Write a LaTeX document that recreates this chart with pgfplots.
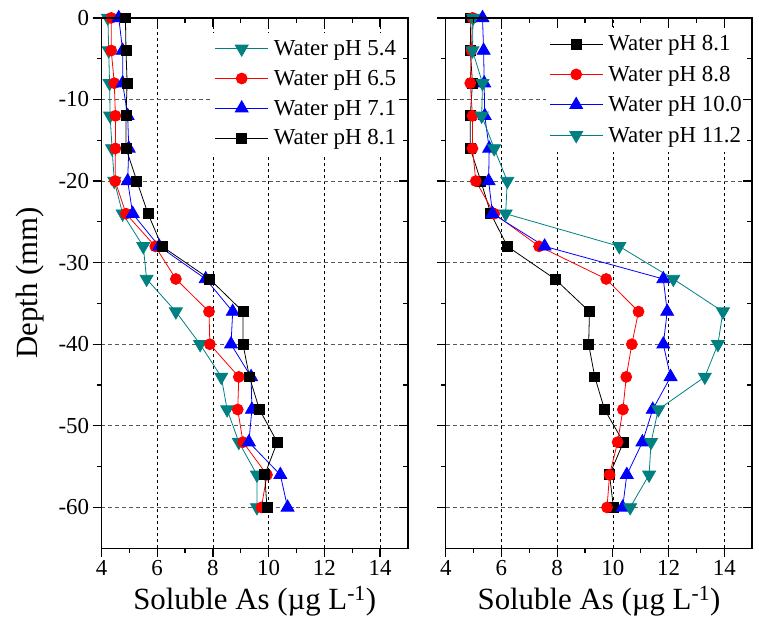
\documentclass[border=0pt]{standalone}
\usepackage{fontspec}
\setmainfont{Liberation Serif}
\usepackage{pgfplots}
\usepackage{pgfplotstable}
\pgfplotsset{compat=1.18}
\definecolor{tealc}{RGB}{0,128,128}

\newcommand{\tickfont}{\rmfamily\fontsize{23}{27}\selectfont}
\newcommand{\labfont}{\fontsize{31}{36}\selectfont}
\newcommand{\legfont}{\fontsize{23}{27}\selectfont}

% depth (mm), soluble As for each water pH
\pgfplotstableread{
depth  a     b     c     d
0      4.23  4.35  4.62  4.86
-4     4.26  4.35  4.76  4.88
-8     4.29  4.46  4.76  4.92
-12    4.31  4.50  4.94  4.88
-16    4.38  4.50  4.98  4.88
-20    4.46  4.49  4.94  5.27
-24    4.76  4.88  5.12  5.67
-28    5.50  5.93  6.07  6.17
-32    5.62  6.67  7.74  7.88
-36    6.67  7.86  8.71  9.08
-40    7.54  7.89  8.65  9.08
-44    8.30  8.93  9.37  9.31
-48    8.51  8.89  9.40  9.67
-52    8.93  9.08  9.29  10.31
-56    9.58  9.94  10.42 9.86
-60    9.58  9.74  10.68 9.94
}\leftdata

\pgfplotstableread{
depth  a     b     c     d
0      4.90  4.96  5.32  4.98
-4     4.88  4.92  5.36  4.96
-8     4.96  4.88  5.38  5.32
-12    4.88  4.96  5.40  5.29
-16    4.88  4.96  5.56  5.74
-20    5.26  5.08  5.54  6.21
-24    5.62  5.74  5.68  6.15
-28    6.21  7.35  7.55  10.23
-32    7.92  9.76  11.81 12.17
-36    9.16  10.92 11.95 13.95
-40    9.13  10.68 11.81 13.77
-44    9.35  10.48 12.07 13.30
-48    9.70  10.36 11.43 11.63
-52    10.38 10.17 11.06 11.37
-56    9.88  9.88  10.50 11.30
-60    10.02 9.79  10.35 10.62
}\rightdata

\pgfplotsset{
  panel/.style={
    scale only axis, width=308pt, height=533pt,
    xmin=4, xmax=15, ymin=-65, ymax=0,
    xtick={4,6,...,14}, minor x tick num=1,
    ytick={-60,-50,...,0}, minor y tick num=1,
    axis line style={line width=1.4pt},
    major tick length=9pt, minor tick length=5pt,
    tick style={black, line width=1.2pt},
    ticklabel style={font=\tickfont},
  },
  data/.style={
    panel, xtick pos=left, ytick pos=left, tick align=outside,
    xticklabels={4,6,8,10,12,14},
    yticklabels={-60,-50,-40,-30,-20,-10,0},
    grid=major,
    major x grid style={black, line width=0.6pt, dash pattern=on 3pt off 3pt},
    major y grid style={black!65, line width=0.9pt, dash pattern=on 4pt off 3pt},
    xlabel={Soluble As (µg L\textsuperscript{-1})},
    xlabel style={yshift=-3pt},
    label style={font=\labfont},
    every axis plot/.append style={line width=0.8pt},
    legend image code/.code={\draw[mark repeat=2,mark phase=2,#1] plot coordinates {(0pt,0pt) (26.5pt,0pt) (53pt,0pt)};},
    legend cell align=left,
  },
  frame/.style={
    panel, xtick pos=right, ytick pos=right, tick align=inside,
    xticklabels={}, yticklabels={},
  },
  dn/.style={tealc, mark=triangle*, mark size=7.5pt, mark options={rotate=180}},
  ci/.style={red, mark=*, mark size=5.5pt},
  up/.style={blue, mark=triangle*, mark size=7.5pt},
  sq/.style={black, mark=square*, mark size=5pt},
}

\begin{document}
\begin{tikzpicture}
\path (-102pt,-79pt) rectangle (657pt,551pt);
\begin{axis}[data,
    ylabel={Depth (mm)},
    ylabel style={at={(axis description cs:-0.2338,0.5)}, anchor=center},
    legend style={at={(axis description cs:0.3534,0.9728)}, anchor=north west,
      draw=none, fill=white, font=\legfont, inner xsep=5pt, inner ysep=6pt,
      row sep=9.2pt, column sep=0pt, nodes={inner xsep=5.5pt}},
  ]
  \addplot[dn] table[x=a, y=depth] {\leftdata};
  \addlegendentry{Water pH 5.4}
  \addplot[ci] table[x=b, y=depth] {\leftdata};
  \addlegendentry{Water pH 6.5}
  \addplot[up] table[x=c, y=depth] {\leftdata};
  \addlegendentry{Water pH 7.1}
  \addplot[sq] table[x=d, y=depth] {\leftdata};
  \addlegendentry{Water pH 8.1}
\end{axis}
\begin{axis}[frame]
\end{axis}

\begin{axis}[data, at={(346pt,0pt)},
    yticklabels={},
    legend style={at={(axis description cs:0.328,0.982)}, anchor=north west,
      draw=none, fill=white, font=\legfont, inner xsep=3pt, inner ysep=6pt,
      row sep=9.8pt, column sep=0pt, nodes={inner xsep=5.5pt}},
  ]
  \addplot[sq] table[x=a, y=depth] {\rightdata};
  \addlegendentry{Water pH 8.1}
  \addplot[ci] table[x=b, y=depth] {\rightdata};
  \addlegendentry{Water pH 8.8}
  \addplot[up] table[x=c, y=depth] {\rightdata};
  \addlegendentry{Water pH 10.0}
  \addplot[dn] table[x=d, y=depth] {\rightdata};
  \addlegendentry{Water pH 11.2}
\end{axis}
\begin{axis}[frame, at={(346pt,0pt)}]
\end{axis}
\end{tikzpicture}
\end{document}
